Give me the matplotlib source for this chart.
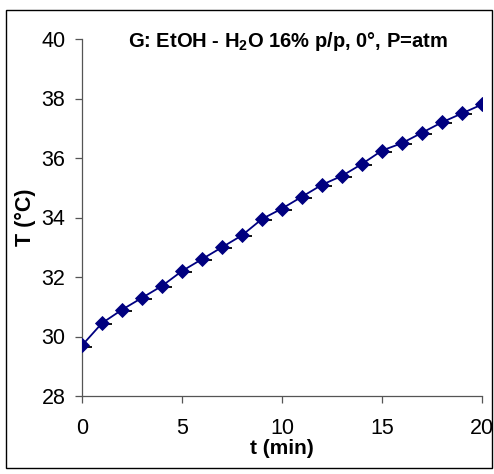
import matplotlib
matplotlib.use("Agg")
import matplotlib.pyplot as plt
import matplotlib.transforms as mtransforms
from matplotlib.patches import Rectangle
import numpy as np

t_min = list(range(0, 21))
temp_c = [29.7, 30.45, 30.9, 31.3, 31.7, 32.2, 32.6, 33.0, 33.4, 33.95, 34.3,
          34.7, 35.1, 35.4, 35.8, 36.25, 36.5, 36.85, 37.2, 37.5, 37.8]
x_ticks = [0, 5, 10, 15, 20]
y_ticks = [28, 30, 32, 34, 36, 38, 40]
title = r"G: EtOH - H$_\mathbf{2}$O 16% p/p, 0°, P=atm"

plt.rcParams['font.family'] = ['Liberation Sans', 'DejaVu Sans']
plt.rcParams['mathtext.fontset'] = 'custom'
plt.rcParams['mathtext.bf'] = 'Liberation Sans:bold'
plt.rcParams['mathtext.rm'] = 'Liberation Sans:bold'

W, H = 494, 474
fig = plt.figure(figsize=(W / 100, H / 100), dpi=100)
ax = fig.add_axes([82 / W, 1 - 396 / H, 400 / W, 357 / H])

navy = '#000080'
ax.plot(t_min, temp_c, color=navy, lw=1.3, zorder=2)
ax.plot(t_min, temp_c, linestyle='none', marker='D', ms=7, mfc=navy,
        mec=navy, mew=0.6, zorder=3)
dash_tr = mtransforms.offset_copy(ax.transData, fig=fig, x=5, y=-0.8, units='points')
ax.plot(t_min, temp_c, linestyle='none', marker='_', ms=4, mew=1.3,
        color='black', transform=dash_tr, zorder=2.5)

ax.set_xlim(0, 20)
ax.set_ylim(28, 40)
ax.set_xticks(x_ticks)
ax.set_yticks(y_ticks)
for s in ['top', 'right']:
    ax.spines[s].set_visible(False)
for s in ['left', 'bottom']:
    ax.spines[s].set_color('#555555')
    ax.spines[s].set_linewidth(0.9)
ax.tick_params(axis='both', direction='out', length=5, width=0.9,
               color='#555555', labelsize=15.5)
ax.tick_params(axis='x', pad=10.5)
ax.tick_params(axis='y', pad=7)
for lab in ax.get_xticklabels() + ax.get_yticklabels():
    lab.set_clip_on(False)

fig.text(288 / W, 1 - 47 / H, title, ha='center', va='baseline',
         fontsize=14.5, fontweight='bold')
fig.text(282 / W, 1 - 454 / H, "t (min)", ha='center', va='baseline',
         fontsize=15, fontweight='bold')
fig.text(25 / W, 1 - 217 / H, "T (°C)", ha='center', va='center',
         fontsize=15.5, fontweight='bold', rotation=90)

fig.patches.append(Rectangle((6 / W, 1 - 468 / H), 486 / W, 458 / H,
                             transform=fig.transFigure, fill=False,
                             edgecolor='black', lw=1.0))

fig.savefig("out.png", dpi=100)
